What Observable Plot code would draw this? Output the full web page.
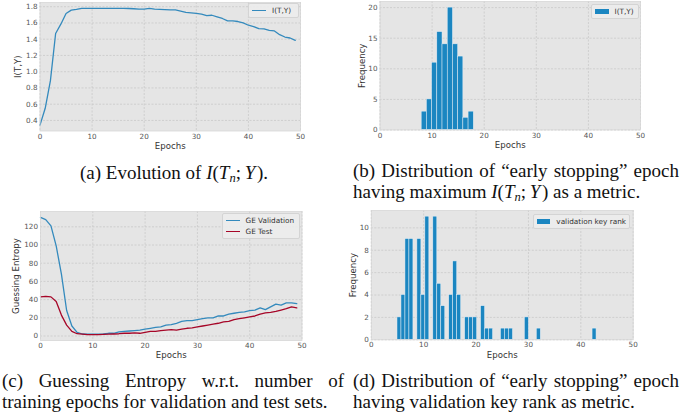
<!DOCTYPE html>
<html>
<head>
<meta charset="utf-8">
<script src="https://cdn.jsdelivr.net/npm/d3@7"></script>
<script src="https://cdn.jsdelivr.net/npm/@observablehq/plot@0.6"></script>
<style>
  html, body { margin: 0; padding: 0; background: #fff; }
  #root { position: relative; width: 685px; height: 413px; overflow: hidden; background: #fff; }
  .panel { position: absolute; }
  .panel svg { overflow: visible; }
  .legend { position: absolute; box-sizing: border-box; background: rgba(236,236,236,0.9);
            border: 1px solid #d4d4d4; border-radius: 2px; font-family: "DejaVu Sans", sans-serif;
            font-size: 7.3px; color: #333; padding: 1px 3px; }
  .legend .row { display: flex; align-items: center; height: 11px; white-space: nowrap; }
  .legend .sw { display: inline-block; width: 14px; margin-right: 6px; }
  .cap { position: absolute; font-family: "Liberation Serif", "Times New Roman", serif; font-size: 19px;
         line-height: 21.1px; color: #111; }
  .just { text-align: justify; }
  .justall { text-align: justify; text-align-last: justify; }
</style>
</head>
<body>
<div id="root"></div>
<script>
// ---------------- data ----------------
const epochs = d3.range(50);
const xTicks = [0, 10, 20, 30, 40, 50];

// (a) I(T,Y) per epoch
const itySeries = [0.342, 0.55, 0.89, 1.47, 1.585, 1.717, 1.758, 1.767, 1.78, 1.78,
                   1.78, 1.78, 1.78, 1.78, 1.78, 1.78, 1.78, 1.778, 1.775, 1.77,
                   1.77, 1.78, 1.77, 1.768, 1.765, 1.76, 1.76, 1.745, 1.73, 1.725,
                   1.717, 1.71, 1.69, 1.695, 1.675, 1.655, 1.626, 1.626, 1.618, 1.60,
                   1.572, 1.556, 1.53, 1.527, 1.51, 1.502, 1.456, 1.427, 1.415, 1.386];
const yTicksA = [0.4, 0.6, 0.8, 1.0, 1.2, 1.4, 1.6, 1.8];

// (b) early stopping epoch, max I(T,Y)
const epochsB = [8, 9, 10, 11, 12, 13, 14, 15, 16, 17];
const countsB = [3, 5, 11, 16, 14, 20, 14, 12, 2, 3];
const rangeB = [8, 18], nBinsB = 10;
const yTicksB = [0, 5, 10, 15, 20];

// (c) Guessing entropy
const geValidation = [130.4, 128, 121, 99, 68, 28, 11, 4, 2.2, 2,
                      2, 2, 2.2, 3, 3, 4.5, 5, 5.5, 6, 6.5,
                      7.5, 8.5, 9.5, 10, 12, 12.5, 14, 16, 17, 17,
                      18, 19, 20, 20, 22, 22, 24, 25, 26, 26.5,
                      28, 28.5, 31, 29, 32, 35, 34, 36.5, 36.5, 35.5];
const geTest = [43, 43.5, 43, 38, 23, 12, 5, 2.5, 2, 1.5,
                1.5, 1.5, 1.8, 2, 2.2, 2.5, 3, 3, 3.5, 3,
                4, 5, 5, 6, 6.5, 7, 6.5, 7.5, 8.5, 9,
                10, 11, 12, 13, 14, 15.5, 16, 18, 19, 20,
                21, 22, 24, 25.5, 26, 27, 28.5, 30, 32, 31];
const yTicksC = [0, 20, 40, 60, 80, 100, 120];

// (d) early stopping epoch, validation key rank
const epochsD = [5, 6, 7, 8, 9, 10, 11, 12, 13, 14, 15, 16, 17, 18, 19, 20, 21, 22, 23, 25, 26, 27, 30, 32, 43];
const countsD = [2, 4, 9, 9, 9, 4, 11, 11, 5, 3, 4, 7, 4, 2, 2, 2, 3, 1, 1, 1, 1, 1, 2, 1, 1];
const rangeD = [5, 43], nBinsD = 50;
const yTicksD = [0, 2, 4, 6, 8, 10];

// ---------------- style ----------------
const BLUE = "#348ABD", RED = "#A60628", BAR = "#1b86c1";
const BG = "#e5e5e5", GRID = "#c6c6c6";
const root = document.getElementById("root");

function padDomain(vals) {            // matplotlib-like 5% margins
  const [a, b] = d3.extent(vals), p = (b - a) * 0.05;
  return [a - p, b + p];
}
function histBins(ep, cnt, range, n) {
  const w = (range[1] - range[0]) / n;
  return ep.map((e, i) => {
    const k = Math.min(n - 1, Math.floor((e - range[0]) / w + 1e-9));
    return {x1: range[0] + k * w, x2: range[0] + (k + 1) * w, y: cnt[i]};
  });
}

function makePanel({left, top, width, height, frame, yDomain, yTicks, yFmt, ylabel, ylabelDx, xlabelDy, marks}) {
  const [fl, ft, fr, fb] = frame; // frame edges in local px
  const chart = Plot.plot({
    width, height,
    marginLeft: fl, marginTop: ft, marginRight: width - fr, marginBottom: height - fb,
    x: {domain: [0, 50], ticks: xTicks, tickSize: 0, tickPadding: 2.5, label: null},
    y: {domain: yDomain, ticks: yTicks, tickFormat: yFmt, tickSize: 0, tickPadding: 2.5, label: null},
    style: {fontFamily: "DejaVu Sans, sans-serif", fontSize: "7.2px", color: "#555", background: "transparent", overflow: "visible"},
    marks: [
      Plot.frame({fill: BG, stroke: "none"}),
      Plot.ruleX(xTicks, {stroke: GRID, strokeWidth: 0.7, strokeDasharray: "2,1.5"}),
      Plot.ruleY(yTicks, {stroke: GRID, strokeWidth: 0.7, strokeDasharray: "2,1.5"}),
      ...marks,
      Plot.frame({stroke: "#d6d6d6", strokeWidth: 0.8}),
      Plot.text(["Epochs"], {frameAnchor: "bottom", dy: xlabelDy, text: d => d, fontSize: 8.6, fill: "#333", lineAnchor: "middle"}),
      Plot.text([ylabel], {frameAnchor: "left", dx: ylabelDx, rotate: -90, textAnchor: "middle", text: d => d, fontSize: 8.6, fill: "#333"})
    ]
  });
  const div = document.createElement("div");
  div.className = "panel";
  div.style.left = left + "px"; div.style.top = top + "px";
  div.appendChild(chart);
  root.appendChild(div);
}

function addLegend(left, top, width, items) {
  const lg = document.createElement("div");
  lg.className = "legend";
  lg.style.left = left + "px"; lg.style.top = top + "px"; lg.style.width = width + "px";
  for (const it of items) {
    const row = document.createElement("div");
    row.className = "row";
    const sw = document.createElement("span");
    sw.className = "sw";
    if (it.kind === "line") { sw.style.height = "0"; sw.style.borderTop = "1.4px solid " + it.color; }
    else { sw.style.height = "5px"; sw.style.background = it.color; }
    row.appendChild(sw);
    row.appendChild(document.createTextNode(it.label));
    lg.appendChild(row);
  }
  root.appendChild(lg);
}

// (a)
const dataA = epochs.map((e, i) => ({x: e, y: itySeries[i]}));
makePanel({
  left: 0, top: 0, width: 320, height: 160, frame: [39.5, 2, 300, 130.5],
  yDomain: padDomain(itySeries), yTicks: yTicksA, yFmt: d3.format(".1f"),
  ylabel: "I(T,Y)", ylabelDx: -22, xlabelDy: 15,
  marks: [Plot.line(dataA, {x: "x", y: "y", stroke: BLUE, strokeWidth: 1.3})]
});
addLegend(248, 3, 51, [{kind: "line", color: BLUE, label: "I(T,Y)"}]);

// (b)
const binsB = histBins(epochsB, countsB, rangeB, nBinsB);
makePanel({
  left: 340, top: 0, width: 345, height: 160, frame: [39.5, 1, 300, 129.5],
  yDomain: [0, d3.max(countsB) * 1.05], yTicks: yTicksB, yFmt: d3.format("d"),
  ylabel: "Frequency", ylabelDx: -18, xlabelDy: 15.5,
  marks: [Plot.rectY(binsB, {x1: "x1", x2: "x2", y: "y", fill: BAR, stroke: "#e4eef5", strokeWidth: 0.5})]
});
addLegend(590.5, 4, 48, [{kind: "patch", color: BAR, label: "I(T,Y)"}]);

// (c)
const dataC = [
  ...epochs.map((e, i) => ({x: e, y: geValidation[i], s: "GE Validation"})),
  ...epochs.map((e, i) => ({x: e, y: geTest[i], s: "GE Test"}))
];
makePanel({
  left: 0, top: 200, width: 320, height: 165, frame: [40, 11, 301.5, 140],
  yDomain: padDomain([...geValidation, ...geTest]), yTicks: yTicksC, yFmt: d3.format("d"),
  ylabel: "Guessing Entropy", ylabelDx: -24, xlabelDy: 15,
  marks: [
    Plot.line(dataC.filter(d => d.s === "GE Validation"), {x: "x", y: "y", stroke: BLUE, strokeWidth: 1.3}),
    Plot.line(dataC.filter(d => d.s === "GE Test"), {x: "x", y: "y", stroke: RED, strokeWidth: 1.3})
  ]
});
addLegend(221.5, 213, 78.5, [
  {kind: "line", color: BLUE, label: "GE Validation"},
  {kind: "line", color: RED, label: "GE Test"}
]);

// (d)
const binsD = histBins(epochsD, countsD, rangeD, nBinsD);
makePanel({
  left: 340, top: 200, width: 345, height: 165, frame: [30.8, 10, 292.7, 139.3],
  yDomain: [0, d3.max(countsD) * 1.05], yTicks: yTicksD, yFmt: d3.format("d"),
  ylabel: "Frequency", ylabelDx: -18, xlabelDy: 15,
  marks: [Plot.rectY(binsD, {x1: "x1", x2: "x2", y: "y", fill: BAR, stroke: "#e4eef5", strokeWidth: 0.5})]
});
addLegend(533, 213.5, 97, [{kind: "patch", color: BAR, label: "validation key rank"}]);

// ---------------- captions ----------------
function caption(left, top, width, html, cls, align) {
  const d = document.createElement("div");
  d.className = "cap" + (cls ? " " + cls : "");
  d.style.left = left + "px"; d.style.top = top + "px"; d.style.width = width + "px";
  if (align) d.style.textAlign = align;
  d.innerHTML = html;
  root.appendChild(d);
}
const ITnY = '<i>I</i>(<i>T</i><sub style="font-size:12.5px;vertical-align:-3px;line-height:0"><i>n</i></sub>;&#8201;<i>Y</i>&#8202;)';
caption(0, 162.3, 348, '(a) Evolution of ' + ITnY + '.', null, "center");
caption(353, 160, 326, '(b) Distribution of \u201Cearly stopping\u201D epoch', "justall");
caption(353, 181.1, 326, '<span style="white-space:nowrap">having maximum ' + ITnY + ' as a metric.</span>');
caption(2, 370, 342, '(c) Guessing Entropy w.r.t. number of training epochs for validation and test sets.', "just");
caption(353, 370, 326, '(d) Distribution of \u201Cearly stopping\u201D epoch having validation key rank as metric.', "just");
</script>
</body>
</html>
